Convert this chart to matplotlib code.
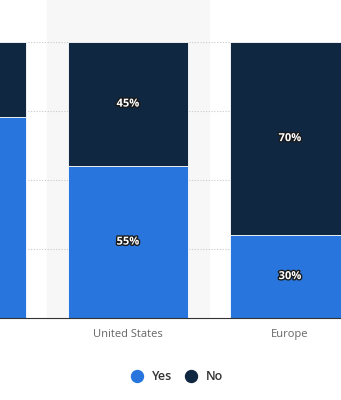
import matplotlib.pyplot as plt
import matplotlib.patheffects as pe
from matplotlib.lines import Line2D
import numpy as np

# data (first category is cut off at the left edge)
categories = ["", "United States", "Europe"]
yes_share = [73, 55, 30]
no_share = [27, 45, 70]

yes_color = "#2876dd"
no_color = "#0f2741"

plt.rcParams["font.family"] = ["Open Sans", "DejaVu Sans"]

fig = plt.figure(figsize=(3.41, 4.0), dpi=100)
ax = fig.add_axes([0.0, 0.205, 1.0, 0.69])  # llx, lly, w, h

x = np.arange(len(categories))
yes = np.array(yes_share)
no = np.array(no_share)
x_lo, x_hi = 1 - 128 / 162, 1 + 213 / 162  # visible window of the category axis

# hover band behind the middle category
band = ax.axvspan(0.5, 1.5, ymin=0, ymax=1.16, color="#f7f7f7", zorder=0)
band.set_clip_on(False)

ax.bar(x, yes, width=0.74, color=yes_color, edgecolor="white", linewidth=0.6, zorder=3)
ax.bar(x, no, width=0.74, bottom=yes, color=no_color, edgecolor="white", linewidth=0.6, zorder=3)

stroke = [pe.withStroke(linewidth=2, foreground="#1a1a1a")]
for xi, y_val, n_val in zip(x, yes, no):
    if not (x_lo < xi < x_hi):
        continue  # bar centre is outside the cropped view, label would not show
    ax.text(xi, y_val / 2, f"{y_val}%", ha="center", va="center", color="white",
            fontsize=8, fontweight="bold", path_effects=stroke, zorder=5)
    ax.text(xi, y_val + n_val / 2, f"{n_val}%", ha="center", va="center", color="white",
            fontsize=8, fontweight="bold", path_effects=stroke, zorder=5)

ax.set_xticks(x)
ax.set_xticklabels(categories, fontsize=8, color="#666666")
ax.set_xlim(x_lo, x_hi)  # after set_xticks, which widens the view
ax.set_ylim(0, 100)
ax.set_yticks([25, 50, 75, 100])
ax.yaxis.grid(True, linestyle=(0, (1, 1.5)), color="#c8c8c8", linewidth=0.8, zorder=1)
ax.tick_params(axis="y", left=False, labelleft=False)
ax.tick_params(axis="x", length=0, pad=8)
ax.set_facecolor("none")
for side in ("top", "left", "right"):
    ax.spines[side].set_visible(False)
ax.spines["bottom"].set_color("#333333")
ax.spines["bottom"].set_linewidth(0.8)
ax.spines["bottom"].set_zorder(4)

handles = [
    Line2D([], [], marker="o", linestyle="", markersize=8.6, color=yes_color),
    Line2D([], [], marker="o", linestyle="", markersize=8.6, color=no_color),
]
fig.legend(handles, ["Yes", "No"], loc="center", bbox_to_anchor=(174 / 341, 1 - 377 / 400),
           ncol=2, frameon=False, handletextpad=0.2, columnspacing=0.5,
           labelcolor="#333333", prop={"weight": "semibold", "size": 9})

fig.savefig("out.png", dpi=100)
